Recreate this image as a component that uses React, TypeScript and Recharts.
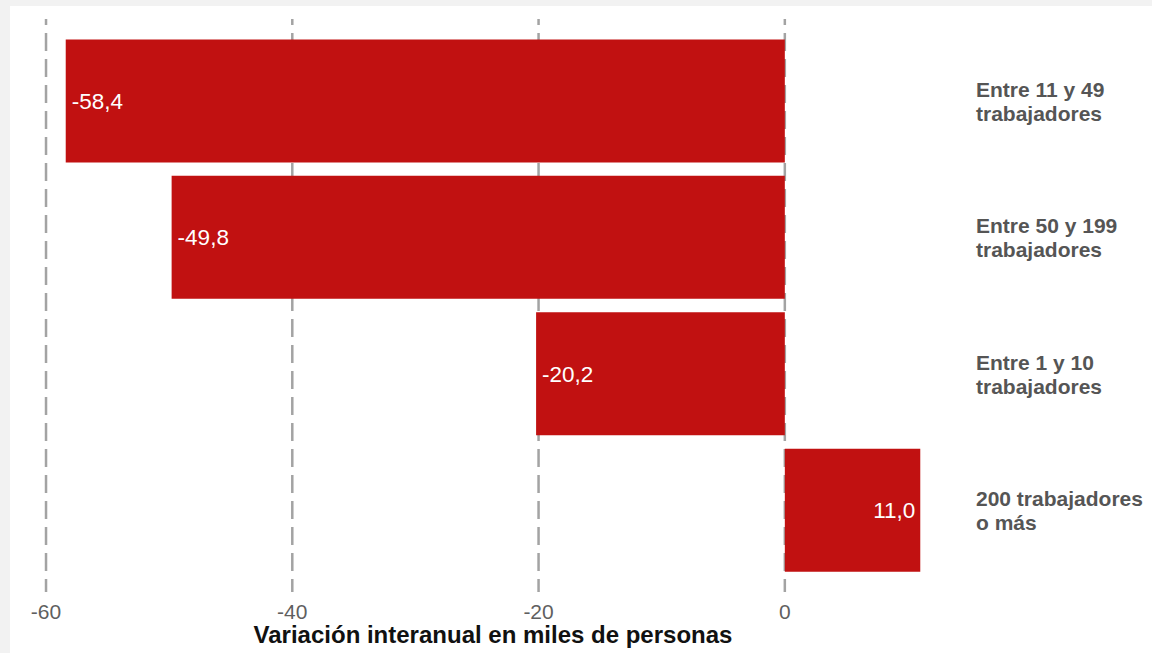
import React from "react";
import {
  BarChart,
  Bar,
  XAxis,
  YAxis,
  CartesianGrid,
  LabelList,
} from "recharts";

// Categories top to bottom, lines split with "\n"
const categories = [
  "Entre 11 y 49\ntrabajadores",
  "Entre 50 y 199\ntrabajadores",
  "Entre 1 y 10\ntrabajadores",
  "200 trabajadores\no más",
];
const values = [-58.4, -49.8, -20.2, 11.0];
const xTicks = [-60, -40, -20, 0];
const xDomain = [-61.87, 14.47];
const xTitle = "Variación interanual en miles de personas";

const data = categories.map((name, i) => ({ name, value: values[i] }));

const FONT = "'Liberation Sans', Arial, sans-serif";
const RED = "#c11111";

const fmt = (v: number) => v.toFixed(1).replace(".", ",");

// right-side category label, two lines
const CategoryTick = (props: any) => {
  const { x, y, payload } = props;
  const lines = String(payload.value).split("\n");
  return (
    <text x={x} y={y} fill="#555555" fontSize={21} fontWeight="bold" fontFamily={FONT}>
      {lines.map((ln, i) => (
        <tspan key={i} x={x} dy={i === 0 ? -4 : 24}>
          {ln}
        </tspan>
      ))}
    </text>
  );
};

// value label inside bar end
const ValueLabel = (props: any) => {
  const { x, y, width, height, value } = props;
  const left = Math.min(x, x + width);
  const right = Math.max(x, x + width);
  const neg = value < 0;
  return (
    <text
      x={neg ? left + 6 : right - 5}
      y={y + height / 2}
      dy="0.36em"
      textAnchor={neg ? "start" : "end"}
      fill="#ffffff"
      fontSize={22.5}
      fontFamily={FONT}
    >
      {fmt(value)}
    </text>
  );
};

// grid only at the tick values, not at the plot edges
const gridX = ({ xAxis, offset }: any) => {
  if (xAxis && typeof xAxis.scale === "function") {
    return xTicks.map((t) => xAxis.scale(t));
  }
  return xTicks.map(
    (t) => offset.left + ((t - xDomain[0]) / (xDomain[1] - xDomain[0])) * offset.width
  );
};

export default function App() {
  return (
    <div
      style={{
        position: "absolute",
        left: 0,
        top: 0,
        width: 1152,
        height: 653,
        background: "#f2f2f2",
        overflow: "hidden",
        fontFamily: FONT,
      }}
    >
      <div
        style={{
          position: "absolute",
          left: 10,
          top: 6,
          width: 1142,
          height: 647,
          background: "#ffffff",
        }}
      />
      <div style={{ position: "absolute", left: 0, top: 0 }}>
        <BarChart
          width={1152}
          height={653}
          data={data}
          layout="vertical"
          margin={{ top: 19, right: 0, bottom: 0, left: 23 }}
          barCategoryGap="5%"
        >
          <CartesianGrid
            horizontal={false}
            verticalCoordinatesGenerator={gridX}
            stroke="#a3a3a3"
            strokeWidth={2.5}
            strokeDasharray="18 8"
            strokeDashoffset={12}
          />
          <XAxis
            type="number"
            domain={xDomain}
            ticks={xTicks}
            allowDataOverflow
            axisLine={false}
            tickLine={false}
            tickSize={6}
            tickMargin={6}
            height={61}
            tick={{ fill: "#5f5f5f", fontSize: 21, fontFamily: FONT }}
            label={{
              value: xTitle,
              position: "insideBottom",
              offset: 10,
              fill: "#111111",
              fontSize: 24,
              fontWeight: "bold",
              fontFamily: FONT,
            }}
          />
          <YAxis
            type="category"
            dataKey="name"
            orientation="right"
            width={189}
            axisLine={false}
            tickLine={false}
            tickSize={6}
            tickMargin={7}
            padding={{ top: 13.6, bottom: 13.6 }}
            tick={<CategoryTick />}
          />
          <Bar dataKey="value" fill={RED} isAnimationActive={false}>
            <LabelList dataKey="value" content={<ValueLabel />} />
          </Bar>
        </BarChart>
      </div>
    </div>
  );
}
